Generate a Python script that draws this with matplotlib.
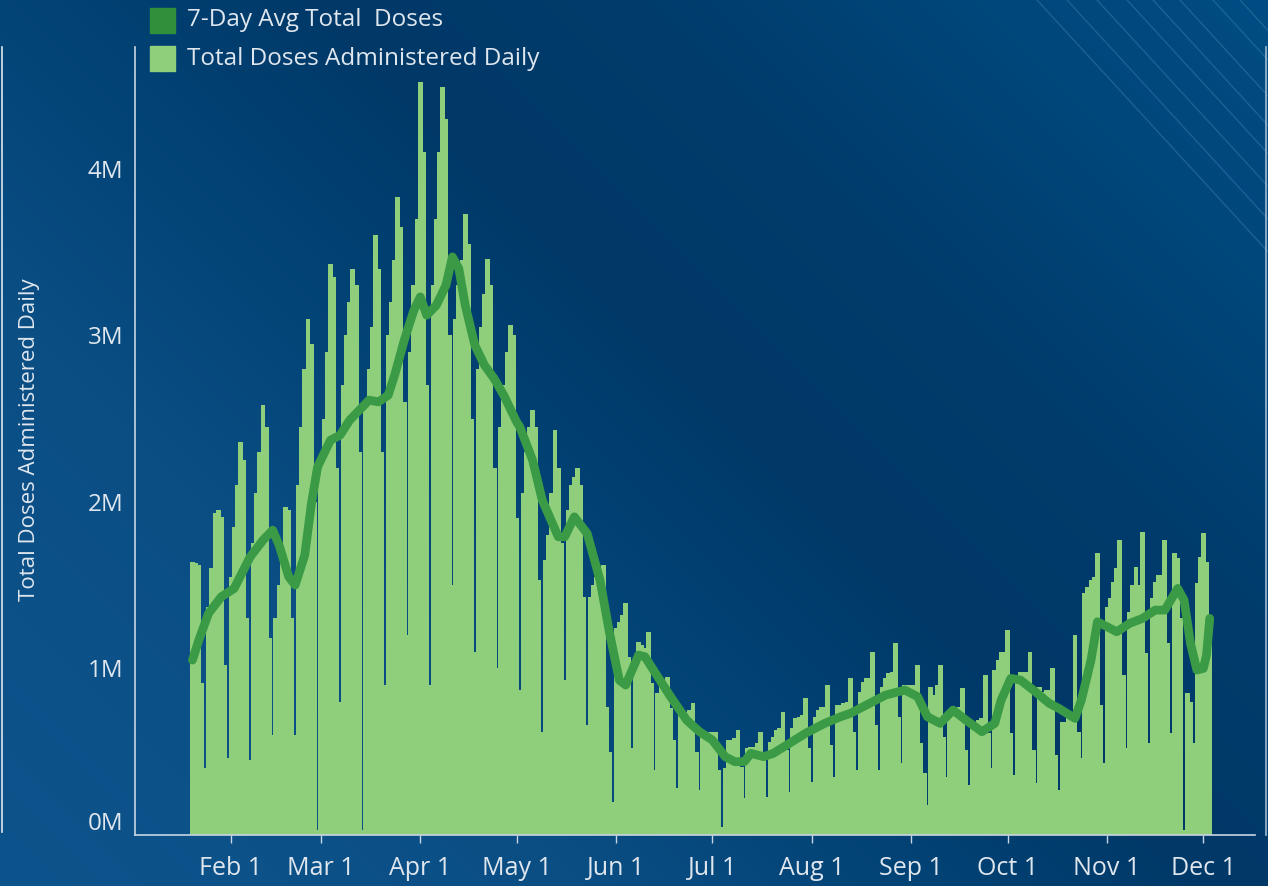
import matplotlib
matplotlib.use("Agg")
import matplotlib.pyplot as plt
import matplotlib.transforms as mtrans
import numpy as np
import pandas as pd
from matplotlib.patches import Rectangle

plt.rcParams['font.family'] = ['Open Sans', 'DejaVu Sans']

# ---------------- data (millions of doses) ----------------
start_date = "2021-01-20"
jan_doses = [1.64, 1.63, 1.62, 0.91, 0.40, 1.37, 1.60, 1.93, 1.95, 1.91, 1.02, 0.46]
feb_doses = [1.55, 1.85, 2.10, 2.36, 2.25, 1.30, 0.45,
             1.75, 2.05, 2.30, 2.58, 2.45, 1.18, 0.60,
             1.30, 1.50, 1.70, 1.97, 1.95, 1.30, 0.60,
             2.10, 2.45, 2.80, 3.10, 2.95, 2.00, 0.03]
mar_doses = [2.20, 2.50, 2.90, 3.43, 3.35, 2.20, 0.80,
             2.70, 3.00, 3.20, 3.40, 3.30, 2.30, 0.03,
             2.60, 2.80, 3.05, 3.60, 3.40, 2.30, 0.90,
             3.00, 3.20, 3.45, 3.83, 3.65, 2.60, 1.20,
             2.90, 3.30, 3.70]
apr_doses = [4.52, 4.10, 2.70, 0.90,
             3.30, 3.70, 4.10, 4.49, 4.30, 3.00, 1.50,
             3.10, 3.30, 3.45, 3.73, 3.55, 2.50, 1.10,
             2.80, 3.05, 3.25, 3.46, 3.30, 2.20, 1.00,
             2.45, 2.70, 2.90, 3.06, 3.00]
may_doses = [1.90, 0.87,
             2.05, 2.30, 2.45, 2.55, 2.45, 1.53, 0.62,
             1.65, 1.80, 2.05, 2.43, 2.20, 1.75, 0.93,
             1.95, 2.10, 2.15, 2.20, 2.10, 1.43, 0.66,
             1.43, 1.50, 1.55, 1.60, 1.62, 0.77, 0.50, 0.20]
jun_doses = [1.24, 1.28, 1.32, 1.39, 1.07, 0.52,
             1.07, 1.16, 1.14, 1.12, 1.22, 0.91, 0.39,
             0.85, 0.90, 0.93, 0.95, 0.76, 0.57, 0.28,
             0.72, 0.73, 0.74, 0.75, 0.79, 0.50, 0.27,
             0.60, 0.61, 0.62]
jul_doses = [0.62, 0.62, 0.39, 0.05,
             0.40, 0.57, 0.57, 0.58, 0.63, 0.41, 0.22,
             0.52, 0.53, 0.53, 0.55, 0.62, 0.45, 0.23,
             0.56, 0.59, 0.63, 0.64, 0.74, 0.51, 0.26,
             0.64, 0.70, 0.71, 0.72, 0.82, 0.52]
aug_doses = [0.32,
             0.71, 0.75, 0.77, 0.77, 0.90, 0.54, 0.35,
             0.78, 0.78, 0.79, 0.80, 0.94, 0.62, 0.39,
             0.86, 0.92, 0.94, 0.94, 1.10, 0.66, 0.39,
             0.89, 0.94, 0.97, 0.98, 1.15, 0.71, 0.43,
             0.90, 0.90]
sep_doses = [0.90, 0.90, 1.02, 0.55, 0.37,
             0.18, 0.89, 0.84, 0.90, 1.02, 0.59, 0.35,
             0.72, 0.74, 0.75, 0.77, 0.88, 0.51, 0.30,
             0.66, 0.68, 0.69, 0.70, 0.96, 0.61, 0.40,
             0.99, 1.05, 1.10, 1.10]
oct_doses = [1.23, 0.61, 0.36,
             0.95, 0.98, 0.98, 0.98, 1.10, 0.51, 0.31,
             0.89, 0.86, 0.87, 0.87, 1.00, 0.48, 0.27,
             0.68, 0.68, 0.70, 0.72, 1.20, 0.62, 0.46,
             1.45, 1.49, 1.53, 1.55, 1.69, 0.78, 0.43]
nov_doses = [1.37, 1.42, 1.52, 1.60, 1.77, 0.96, 0.52,
             1.34, 1.50, 1.61, 1.50, 1.82, 1.09, 0.55,
             1.42, 1.52, 1.56, 1.56, 1.77, 1.15, 0.61,
             1.69, 1.66, 1.30, 0.03, 0.85, 0.80, 0.55,
             1.51, 1.67]
dec_doses = [1.81, 1.64, 1.30]

avg_dates = ["2021-01-20", "2021-01-22", "2021-01-25", "2021-01-29", "2021-02-02",
             "2021-02-07", "2021-02-11", "2021-02-14", "2021-02-16", "2021-02-19",
             "2021-02-21", "2021-02-24", "2021-02-26", "2021-02-28", "2021-03-04",
             "2021-03-07", "2021-03-10", "2021-03-13", "2021-03-16", "2021-03-19",
             "2021-03-22", "2021-03-24", "2021-03-27", "2021-03-30", "2021-04-01",
             "2021-04-03", "2021-04-06", "2021-04-09", "2021-04-11", "2021-04-13",
             "2021-04-15", "2021-04-18", "2021-04-21", "2021-04-24", "2021-04-27",
             "2021-05-01", "2021-05-02", "2021-05-06", "2021-05-09", "2021-05-14",
             "2021-05-16", "2021-05-19", "2021-05-23", "2021-05-27", "2021-05-30",
             "2021-06-02", "2021-06-04", "2021-06-08", "2021-06-10", "2021-06-14",
             "2021-06-18", "2021-06-23", "2021-06-27", "2021-07-01", "2021-07-05",
             "2021-07-08", "2021-07-11", "2021-07-13", "2021-07-17", "2021-07-20",
             "2021-07-25", "2021-07-30", "2021-08-05", "2021-08-10", "2021-08-13",
             "2021-08-19", "2021-08-24", "2021-08-30", "2021-09-03", "2021-09-06",
             "2021-09-10", "2021-09-14", "2021-09-18", "2021-09-23", "2021-09-27",
             "2021-09-29", "2021-10-02", "2021-10-05", "2021-10-09", "2021-10-14",
             "2021-10-17", "2021-10-22", "2021-10-24", "2021-10-27", "2021-10-29",
             "2021-11-04", "2021-11-08", "2021-11-12", "2021-11-16", "2021-11-19",
             "2021-11-23", "2021-11-25", "2021-11-27", "2021-11-29", "2021-12-01",
             "2021-12-02", "2021-12-03"]
avg_values = [1.05, 1.17, 1.33, 1.43, 1.48,
              1.67, 1.77, 1.83, 1.74, 1.55,
              1.50, 1.68, 1.98, 2.21, 2.37,
              2.40, 2.49, 2.55, 2.61, 2.60,
              2.64, 2.76, 2.97, 3.15, 3.23,
              3.12, 3.18, 3.30, 3.47, 3.40,
              3.18, 2.94, 2.82, 2.74, 2.64,
              2.48, 2.45, 2.25, 2.01, 1.79,
              1.79, 1.91, 1.81, 1.53, 1.21,
              0.93, 0.90, 1.08, 1.07, 0.95,
              0.83, 0.69, 0.62, 0.57, 0.47,
              0.44, 0.44, 0.49, 0.47, 0.49,
              0.55, 0.61, 0.67, 0.71, 0.73,
              0.79, 0.84, 0.87, 0.83, 0.71,
              0.67, 0.75, 0.69, 0.62, 0.67,
              0.81, 0.94, 0.93, 0.87, 0.79,
              0.76, 0.70, 0.81, 1.05, 1.28,
              1.22, 1.27, 1.30, 1.35, 1.35,
              1.48, 1.41, 1.15, 0.99, 1.00,
              1.08, 1.30]

y_ticks = [0, 1, 2, 3, 4]
y_tick_labels = ["0M", "1M", "2M", "3M", "4M"]
x_tick_dates = ["2021-02-01", "2021-03-01", "2021-04-01", "2021-05-01", "2021-06-01",
                "2021-07-01", "2021-08-01", "2021-09-01", "2021-10-01", "2021-11-01",
                "2021-12-01"]
x_tick_labels = ["Feb 1", "Mar 1", "Apr 1", "May 1", "Jun 1", "Jul 1", "Aug 1",
                 "Sep 1", "Oct 1", "Nov 1", "Dec 1"]
legend_labels = ["7-Day Avg Total  Doses", "Total Doses Administered Daily"]
y_title = "Total Doses Administered Daily"

daily = (jan_doses + feb_doses + mar_doses + apr_doses + may_doses + jun_doses +
         jul_doses + aug_doses + sep_doses + oct_doses + nov_doses + dec_doses)
dates = pd.date_range(start_date, periods=len(daily), freq="D")

# ---------------- figure ----------------
W, H = 1268, 886
fig = plt.figure(figsize=(W / 100, H / 100), dpi=100)

BAR_C = "#8fcf7c"
LINE_C = "#3a9a45"
TEXT_C = "#dfe6ee"
AXIS_C = "#c9d5e2"

# background
bg = fig.add_axes([0, 0, 1, 1], zorder=-10)
X, Y = np.meshgrid(np.arange(W), np.arange(H))
s = X - 1.0 * Y
stops = [-886, -300, 60, 320, 650, 1000, 1268]
cols = np.array([(14, 84, 140), (10, 78, 132), (2, 66, 116), (0, 57, 104),
                 (0, 60, 108), (0, 72, 124), (0, 76, 130)]) / 255.0
img = np.dstack([np.interp(s, stops, cols[:, k]) for k in range(3)])
bg.imshow(img, extent=[0, W, H, 0], aspect="auto", interpolation="bilinear")
for x0 in [1037, 1067, 1097, 1127, 1153, 1180, 1213, 1240, 1268]:
    bg.plot([x0, x0 + 400], [0, 400 * 1.09], color="#3f7fb5", lw=1.0, alpha=0.45)
# container borders
bg.plot([2, 2], [47, 832], color="#dfe6ee", lw=1.2)
bg.plot([1266, 1266], [47, 835], color="#9fb9d3", lw=1.2)
# legend
bg.add_patch(Rectangle((150, 8), 25, 25, color="#2f8f3b"))
bg.add_patch(Rectangle((150, 46), 25, 25, color=BAR_C))
bg.text(187, 20, legend_labels[0], color=TEXT_C, fontsize=17.5, va="center", ha="left")
bg.text(187, 59, legend_labels[1], color=TEXT_C, fontsize=17.5, va="center", ha="left")
bg.text(30, 440, y_title, color=TEXT_C, fontsize=16, rotation=90,
        va="center", ha="center")
bg.set_xlim(0, W)
bg.set_ylim(H, 0)
bg.axis("off")

# main axes
ax = fig.add_axes([135 / W, 1 - 835 / H, (1255 - 135) / W, (835 - 47) / H])
ax.patch.set_alpha(0)
ax.bar(dates, daily, width=1.5, color=BAR_C, linewidth=0, align="center", zorder=2)
ax.plot(pd.to_datetime(avg_dates), avg_values, color=LINE_C, lw=6.3,
        solid_capstyle="round", solid_joinstyle="round", zorder=3)

x0 = pd.Timestamp("2021-02-01") - pd.Timedelta(days=29.9)
x1 = pd.Timestamp("2021-12-01") + pd.Timedelta(days=16.1)
ax.set_xlim(x0, x1)
ax.set_ylim(0, 4.73)

for sp in ["top", "right"]:
    ax.spines[sp].set_visible(False)
ax.spines["left"].set_color(AXIS_C)
ax.spines["bottom"].set_color(AXIS_C)
ax.spines["left"].set_linewidth(1.2)
ax.spines["bottom"].set_linewidth(1.2)

ax.set_xticks(pd.to_datetime(x_tick_dates))
ax.set_xticklabels(x_tick_labels)
ax.set_yticks(y_ticks)
ax.set_yticklabels(y_tick_labels)
ax.tick_params(axis="x", colors=TEXT_C, labelsize=18, length=6, width=1,
               color=AXIS_C, pad=9)
ax.tick_params(axis="y", colors=TEXT_C, labelsize=17.5, length=0, pad=8.5)
lbl0 = ax.get_yticklabels()[0]
lbl0.set_transform(lbl0.get_transform() +
                   mtrans.ScaledTranslation(0, 14 / 100, fig.dpi_scale_trans))

fig.savefig("out.png", dpi=100)
